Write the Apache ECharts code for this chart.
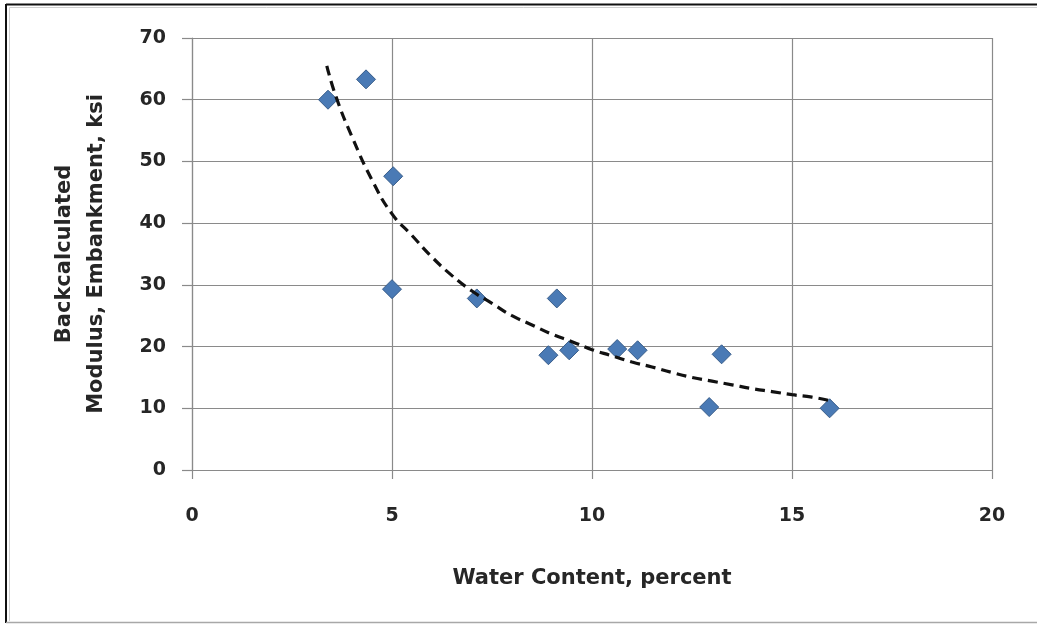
<!DOCTYPE html>
<html>
<head>
<meta charset="utf-8">
<script src="https://cdn.jsdelivr.net/npm/echarts@6/dist/echarts.min.js"></script>
<style>
  html, body { margin: 0; padding: 0; background: #fff; }
  #chart { width: 1037px; height: 625px; }
</style>
</head>
<body>
<div id="chart"></div>
<script>
// Measured water content (%) and backcalculated embankment modulus (ksi)
const waterContent = [3.4, 4.35, 5.03, 5.0, 7.12, 8.91, 9.12, 9.43, 10.63, 11.14, 12.93, 13.24, 15.94];
const modulus      = [60.0, 63.3, 47.6, 29.3, 27.8, 18.6, 27.8, 19.4, 19.6, 19.4, 10.2, 18.75, 10.0];

// Trend curve as drawn through the data
const trendX = [3.37, 3.6, 4.0, 4.5, 5.0, 5.5, 6.0, 6.5, 7.0, 7.5, 8.0, 8.5, 9.0, 9.5, 10.0,
                10.5, 11.0, 11.5, 12.0, 12.5, 13.0, 13.5, 14.0, 14.5, 15.0, 15.5, 15.9];
const trendY = [65.5, 60.5, 54.0, 47.0, 41.5, 38.0, 34.5, 31.5, 29.0, 27.0, 25.0, 23.5, 22.0, 20.8, 19.5,
                18.5, 17.5, 16.7, 15.8, 15.0, 14.4, 13.8, 13.2, 12.7, 12.2, 11.8, 11.3];

// Axis ticks
const xTicks = [0, 5, 10, 15, 20];
const yTicks = [0, 10, 20, 30, 40, 50, 60, 70];

const gridColor = '#8a8a8a';
const textColor = '#262626';
const fontFamily = '"DejaVu Sans", sans-serif';

const chart = echarts.init(document.getElementById('chart'), null, { renderer: 'canvas' });

chart.setOption({
  backgroundColor: '#ffffff',
  animation: false,
  grid: { left: 192, top: 38, width: 800, height: 432, containLabel: false },
  xAxis: {
    type: 'value',
    min: xTicks[0],
    max: xTicks[xTicks.length - 1],
    interval: xTicks[1] - xTicks[0],
    name: 'Water Content, percent',
    nameLocation: 'middle',
    nameGap: 98,
    nameTextStyle: { fontFamily, fontSize: 21, fontWeight: 'bold', color: textColor, verticalAlign: 'top' },
    axisLine: { show: true, onZero: false, lineStyle: { color: gridColor, width: 1.2 } },
    axisTick: { show: true, inside: false, length: 9, lineStyle: { color: gridColor, width: 1.2 } },
    axisLabel: { margin: 37, fontFamily, fontSize: 19, fontWeight: 'bold', color: textColor },
    splitLine: { show: true, lineStyle: { color: gridColor, width: 1.2 } }
  },
  yAxis: {
    type: 'value',
    min: yTicks[0],
    max: yTicks[yTicks.length - 1],
    interval: yTicks[1] - yTicks[0],
    name: 'Backcalculated\nModulus, Embankment, ksi',
    nameLocation: 'middle',
    nameRotate: 90,
    nameGap: 79,
    nameTextStyle: { fontFamily, fontSize: 21, fontWeight: 'bold', color: textColor, lineHeight: 32, align: 'center' },
    axisLine: { show: true, onZero: false, lineStyle: { color: gridColor, width: 1.2 } },
    axisTick: { show: true, inside: false, length: 10, lineStyle: { color: gridColor, width: 1.2 } },
    axisLabel: { margin: 26, fontFamily, fontSize: 19, fontWeight: 'bold', color: textColor },
    splitLine: { show: true, lineStyle: { color: gridColor, width: 1.2 } }
  },
  series: [
    {
      name: 'Modulus',
      type: 'scatter',
      symbol: 'diamond',
      symbolSize: 19,
      itemStyle: { color: '#4a7ab5', borderColor: '#385d8a', borderWidth: 1, opacity: 1 },
      data: waterContent.map((w, i) => [w, modulus[i]]),
      z: 3
    },
    {
      name: 'Trend',
      type: 'line',
      smooth: true,
      symbol: 'none',
      lineStyle: { color: '#111', width: 3.2, type: [10, 6] },
      data: trendX.map((x, i) => [x, trendY[i]]),
      z: 4
    }
  ],
  graphic: [
    // chart frame
    { type: 'line', shape: { x1: 6, y1: 4.5, x2: 1037, y2: 4.5 }, style: { stroke: '#111', lineWidth: 2 } },
    { type: 'line', shape: { x1: 6, y1: 4, x2: 6, y2: 623 }, style: { stroke: '#111', lineWidth: 2 } },
    { type: 'line', shape: { x1: 9.5, y1: 7.5, x2: 1037, y2: 7.5 }, style: { stroke: '#cfcfcf', lineWidth: 1 } },
    { type: 'line', shape: { x1: 9.5, y1: 7.5, x2: 9.5, y2: 621 }, style: { stroke: '#cfcfcf', lineWidth: 1 } },
    { type: 'line', shape: { x1: 6, y1: 622.5, x2: 1037, y2: 622.5 }, style: { stroke: '#a8a8a8', lineWidth: 1.5 } }
  ]
});
</script>
</body>
</html>
